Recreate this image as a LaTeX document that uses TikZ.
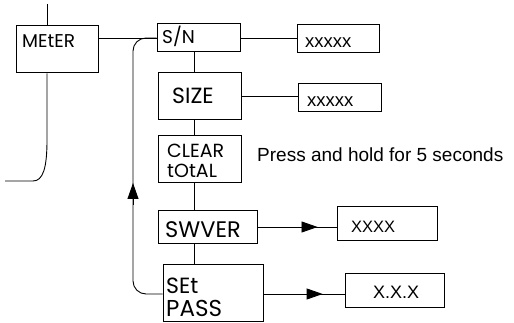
\documentclass[tikz,border=0pt]{standalone}
\usepackage{fontspec}
\setmainfont{Poppins}
\newfontfamily\arialf{Liberation Sans}
\usetikzlibrary{arrows.meta,decorations.markings}
\tikzset{
  box/.style={draw, line width=1pt, inner sep=0pt},
  lbl/.style={anchor=base west, inner sep=0pt},
  val/.style={anchor=base west, inner sep=0pt, font=\arialf},
  conn/.style={line width=0.9pt},
  midarrow/.style={postaction={decorate}, decoration={markings, mark=at position #1 with {\arrow{Triangle[width=11pt,length=16pt]}}}},
}
\newcommand{\boxat}[5]{\node[box, minimum width=#4-#2, minimum height=#5-#3] (#1) at ({(#2+#4)/2},{(#3+#5)/2}) {};}
\begin{document}
\begin{tikzpicture}[x=1pt,y=-1pt]
\useasboundingbox (0,0) rectangle (514,323);
% boxes
\boxat{meter}{16}{26}{98}{73}
\boxat{sn}{157}{24}{240}{52}
\boxat{size}{158}{73}{241}{120}
\boxat{clear}{158}{136}{241}{183}
\boxat{swver}{158}{211}{257}{244}
\boxat{setpass}{163}{264}{263}{321}
\boxat{snval}{297}{25}{379}{53}
\boxat{sizeval}{298}{84}{381}{112}
\boxat{swval}{337}{207}{437}{241}
\boxat{passval}{345}{273}{444}{307}
% labels
\node[lbl, font=\fontsize{18.5}{18.5}\selectfont] (lmeter) at (22,48) {MEtER};
\node[lbl, font=\fontsize{18.5}{18.5}\selectfont] (lsn) at (162,44) {S/N};
\node[lbl, font=\fontsize{22}{22}\selectfont] (lsize) at (172,104) {SIZE};
\node[lbl, font=\fontsize{19}{19}\selectfont] (lclear) at (167,158) {CLEAR};
\node[lbl, font=\fontsize{19}{19}\selectfont] (ltotal) at (167,178) {tOtAL};
\node[lbl, font=\fontsize{22.5}{22.5}\selectfont] (lswver) at (165,237) {SWVER};
\node[lbl, font=\fontsize{22}{22}\selectfont] (lset) at (166,293) {SEt};
\node[lbl, font=\fontsize{23}{23}\selectfont] (lpass) at (166,316) {PASS};
\node[val, font=\arialf\fontsize{18.5}{18.5}\selectfont] (vsn) at (305,48) {xxxxx};
\node[val, font=\arialf\fontsize{18.5}{18.5}\selectfont] (vsize) at (307,107) {xxxxx};
\node[val, font=\arialf\fontsize{16.5}{16.5}\selectfont] (vsw) at (351,233) {XXXX};
\node[val, font=\arialf\fontsize{18}{18}\selectfont] (vpass) at (373,298) {X.X.X};
\node[val, font=\arialf\fontsize{19}{19}\selectfont] (press) at (257,162) {Press and hold for 5 seconds};
% coordinates
\coordinate (top) at (47,4);
\coordinate (bend) at (47,140);
\coordinate (curveend) at (33,181);
\coordinate (leftend) at (5,181);
\coordinate (spine) at (194,0);
\coordinate (loopx) at (133,0);
\coordinate (looptail) at (133,205);
\coordinate (looptip) at (133,183);
% connectors
\draw[conn] (top) -- (top |- meter.north);
\draw[conn] (bend |- meter.south) -- (bend) .. controls (47,168) and (43,181) .. (curveend) -- (leftend);
\draw[conn] (meter.east |- sn.west) -- (sn.west);
\draw[conn, rounded corners=13pt] (setpass.west |- 0,294) -| (loopx |- sn.west) -- (sn.west);
\draw[conn, -{Triangle[width=11pt,length=16pt]}] (looptail) -- (looptip);
\draw[conn] (sn.south -| spine) -- (size.north -| spine);
\draw[conn] (size.south -| spine) -- (clear.north -| spine);
\draw[conn] (clear.south -| spine) -- (swver.north -| spine);
\draw[conn] (swver.south -| spine) -- (setpass.north -| spine);
\draw[conn] (sn.east) -- (sn.east -| snval.west);
\draw[conn] (size.east) -- (size.east -| sizeval.west);
\draw[conn, midarrow=0.76] (swver.east |- 0,227) -- (swval.west |- 0,227);
\draw[conn, midarrow=0.73] (setpass.east |- 0,294) -- (passval.west |- 0,294);
\end{tikzpicture}
\end{document}
